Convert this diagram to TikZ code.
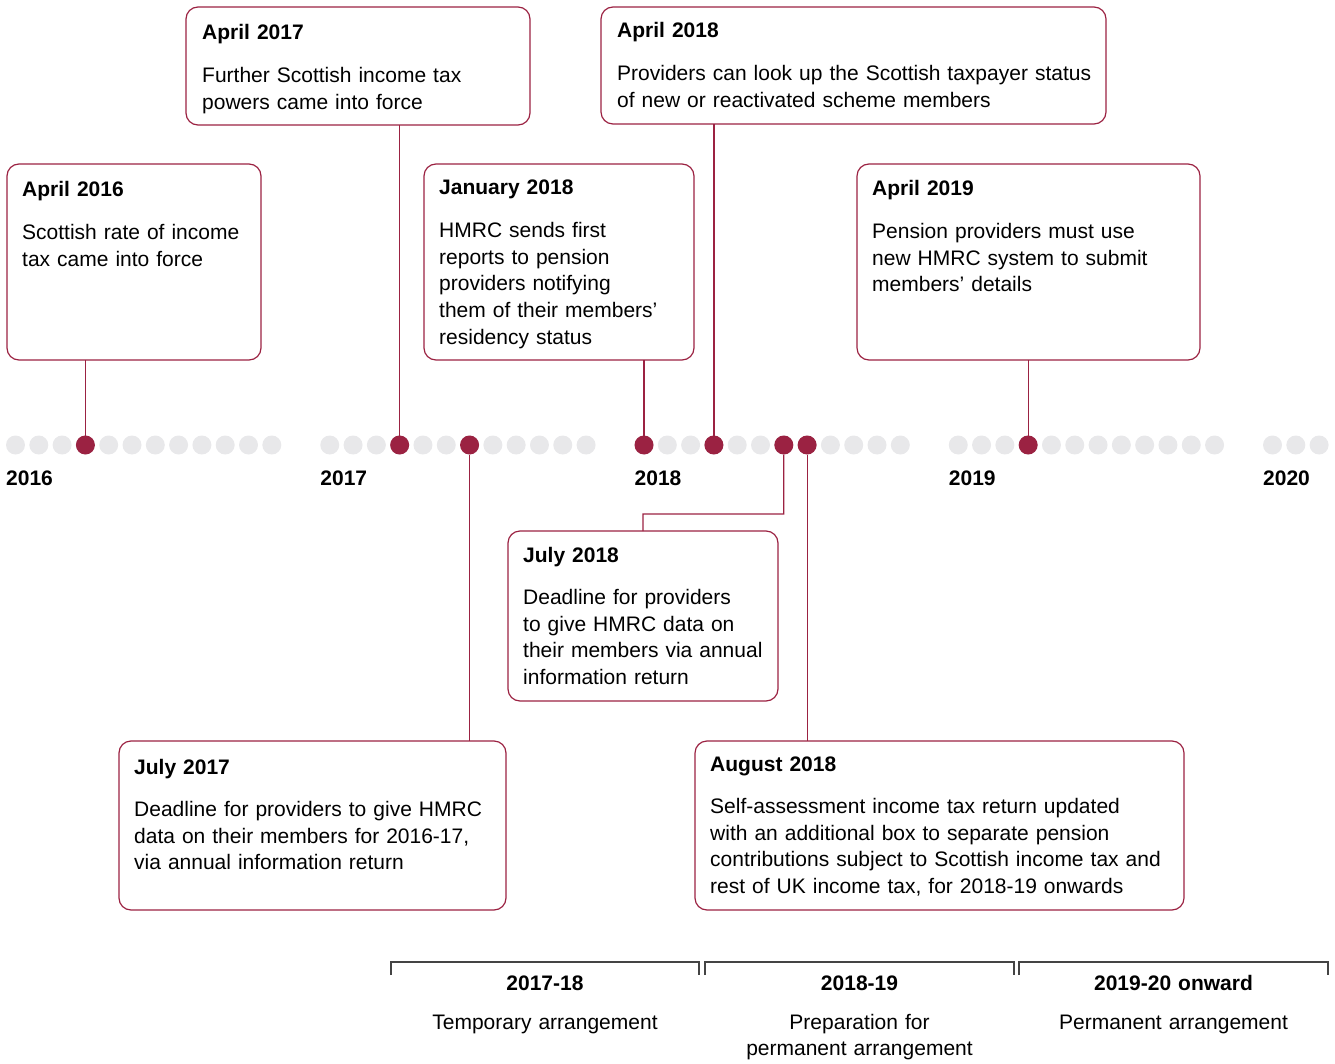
\documentclass[tikz,border=0pt]{standalone}
\usepackage{fontspec}
\setmainfont{Liberation Sans}
\definecolor{crim}{HTML}{9B2242}
\definecolor{dotgrey}{HTML}{E8E8EA}
\definecolor{brk}{HTML}{444444}
\begin{document}
\begin{tikzpicture}[x=1pt,y=-1pt,
  dot/.style={circle,fill=dotgrey,minimum size=19pt,inner sep=0pt,outer sep=0pt},
  hot/.style={dot,fill=crim},
  evbox/.style={draw=crim,line width=1.2pt,rounded corners=12pt,inner sep=0pt,outer sep=0pt,anchor=north west},
  evtext/.style={anchor=base west,inner sep=0pt,text width=520pt,align=left,font=\fontsize{21}{26.7}\selectfont},
  link/.style={draw=crim,line width=1.2pt},
  yearlab/.style={anchor=base west,inner sep=0pt,font=\fontsize{21}{25}\selectfont\bfseries},
  brlab/.style={anchor=base,inner sep=0pt,text width=300pt,align=center,font=\fontsize{21}{26.7}\selectfont},
  bracket/.style={draw=brk,line width=1.1pt}]
\useasboundingbox (0,0) rectangle (1335,1064);

% timeline dots
\foreach \yr/\n in {0/12,1/12,2/12,3/12,4/3}{
  \foreach \m in {1,...,\n}{
    \node[dot] (d\yr-\m) at ({15.5+\yr*314.25+(\m-1)*23.3},445) {};
  }
}
\node[hot] (a16) at (d0-4) {};
\node[hot] (a17) at (d1-4) {};
\node[hot] (j17) at (d1-7) {};
\node[hot] (n18) at (d2-1) {};
\node[hot] (a18) at (d2-4) {};
\node[hot] (j18) at (d2-7) {};
\node[hot] (g18) at (d2-8) {};
\node[hot] (a19) at (d3-4) {};

% year labels
\node[yearlab] (y16) at (6,485) {2016};
\node[yearlab] (y17) at (320.25,485) {2017};
\node[yearlab] (y18) at (634.5,485) {2018};
\node[yearlab] (y19) at (948.75,485) {2019};
\node[yearlab] (y20) at (1263,485) {2020};

% event boxes
\node[evbox,minimum width=254pt,minimum height=196pt] (b1) at (7,164) {};
\node[evtext] (t1) at (22,197) {\textbf{April 2016}\\[15.8pt]Scottish rate of income\\tax came into force};

\node[evbox,minimum width=344pt,minimum height=118pt] (b2) at (186,7) {};
\node[evtext] (t2) at (202,40) {\textbf{April 2017}\\[15.8pt]Further Scottish income tax\\powers came into force};

\node[evbox,minimum width=270pt,minimum height=196pt] (b3) at (424,164) {};
\node[evtext] (t3) at (439,195) {\textbf{January 2018}\\[15.8pt]HMRC sends first\\reports to pension\\providers notifying\\them of their members’\\residency status};

\node[evbox,minimum width=505pt,minimum height=117pt] (b4) at (601,7) {};
\node[evtext] (t4) at (617,38) {\textbf{April 2018}\\[15.8pt]Providers can look up the Scottish taxpayer status\\of new or reactivated scheme members};

\node[evbox,minimum width=343pt,minimum height=196pt] (b5) at (857,164) {};
\node[evtext] (t5) at (872,196) {\textbf{April 2019}\\[15.8pt]Pension providers must use\\new HMRC system to submit\\members’ details};

\node[evbox,minimum width=270pt,minimum height=170pt] (b6) at (508,531) {};
\node[evtext] (t6) at (523,562) {\textbf{July 2018}\\[15.8pt]Deadline for providers\\to give HMRC data on\\their members via annual\\information return};

\node[evbox,minimum width=387pt,minimum height=169pt] (b7) at (119,741) {};
\node[evtext] (t7) at (134,774) {\textbf{July 2017}\\[15.8pt]Deadline for providers to give HMRC\\data on their members for 2016-17,\\via annual information return};

\node[evbox,minimum width=489pt,minimum height=169pt] (b8) at (695,741) {};
\node[evtext] (t8) at (710,771) {\textbf{August 2018}\\[15.8pt]Self-assessment income tax return updated\\with an additional box to separate pension\\contributions subject to Scottish income tax and\\rest of UK income tax, for 2018-19 onwards};

% connectors
\draw[link] (a16 |- b1.south) -- (a16);
\draw[link] (a17 |- b2.south) -- (a17);
\draw[link] (n18 |- b3.south) -- (n18);
\draw[link] (a18 |- b4.south) -- (a18);
\draw[link] (a19 |- b5.south) -- (a19);
\draw[link] (j17) -- (j17 |- b7.north);
\draw[link] (g18) -- (g18 |- b8.north);
\coordinate (kink) at (783.7,514);
\draw[link] (j18) -- (kink) -| (b6.north);

% period brackets
\draw[bracket] (391,975) -- (391,962) -- (699,962) -- (699,975);
\draw[bracket] (705,975) -- (705,962) -- (1014,962) -- (1014,975);
\draw[bracket] (1019,975) -- (1019,962) -- (1328,962) -- (1328,975);
\node[brlab] (p1) at (545,990) {\textbf{2017-18}};
\node[brlab] (q1) at (545,1029) {Temporary arrangement};
\node[brlab] (p2) at (859.5,990) {\textbf{2018-19}};
\node[brlab] (q2) at (859.5,1029) {Preparation for\\permanent arrangement};
\node[brlab] (p3) at (1173.5,990) {\textbf{2019-20 onward}};
\node[brlab] (q3) at (1173.5,1029) {Permanent arrangement};
\end{tikzpicture}
\end{document}
